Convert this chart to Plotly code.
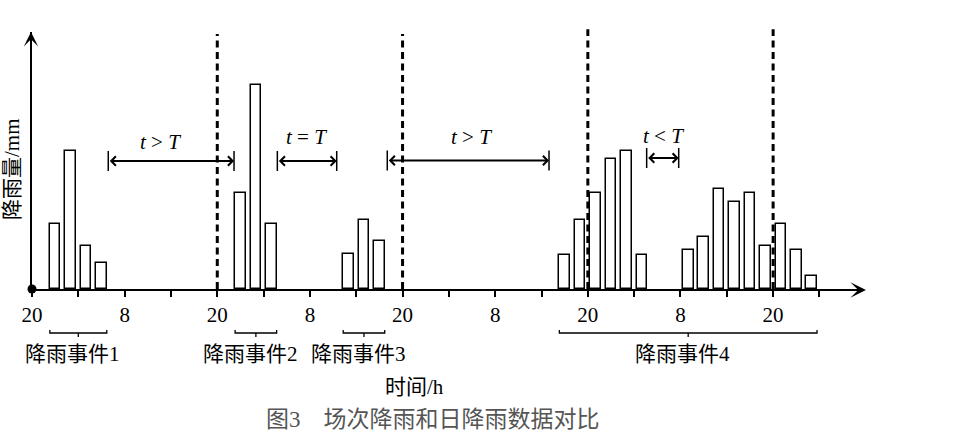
import plotly.graph_objects as go

# ---------------- data ----------------
# bar centres in hours from the first 20:00 mark, 2-hour bars
bar_hours = [3, 5, 7, 9,
             27, 29, 31,
             41, 43, 45,
             69, 71, 73, 75, 77, 79,
             85, 87, 89, 91, 93, 95, 97, 99, 101]
rain_mm = [6.5, 13.8, 4.3, 2.6,
           9.6, 20.4, 6.5,
           3.5, 6.9, 4.8,
           3.4, 6.9, 9.6, 13.0, 13.8, 3.4,
           3.9, 5.2, 10.0, 8.7, 9.6, 4.3, 6.5, 3.9, 1.3]
bar_event = [1, 1, 1, 1,
             2, 2, 2,
             3, 3, 3,
             4, 4, 4, 4, 4, 4,
             4, 4, 4, 4, 4, 4, 4, 4, 4]
event_names = {1: "降雨事件1", 2: "降雨事件2", 3: "降雨事件3", 4: "降雨事件4"}

tick_hours = list(range(0, 103, 6))
tick_text = ["20", "", "8", "", "20", "", "8", "", "20", "", "8", "", "20", "", "8", "", "20", ""]

day_splits = [24, 48, 72, 96]
day_split_tops = [25.5, 25.5, 25.97, 25.97]

# dry-interval arrows: (start h, end h, y, label, label x, label y)
intervals = [
    (9.88, 26.17, 12.8, "<i>t</i> &gt; <i>T</i>", 16.58, 14.75),
    (31.78, 39.47, 12.8, "<i>t</i> = <i>T</i>", 35.58, 15.2),
    (46.02, 66.97, 12.85, "<i>t</i> &gt; <i>T</i>", 56.96, 15.2),
    (79.62, 83.77, 13.1, "<i>t</i> &lt; <i>T</i>", 81.78, 15.35),
]

# ---------------- layout geometry ----------------
W, H = 954, 443
ML, MR, MT, MB = 32, 92, 32, 154
PLOT_W = W - ML - MR
PLOT_H = H - MT - MB
XMAX = PLOT_W / 7.72
YMAX = PLOT_H / 10.0
BAR_W = 1.38
SERIF = "Liberation Serif, 'Times New Roman', 'Noto Sans CJK SC', serif"


def py(pix):
    """pixel row -> paper y"""
    return (H - MB - pix) / PLOT_H


def px(pix):
    return (pix - ML) / PLOT_W


def text_ann(**kw):
    kw.setdefault("xanchor", "center")
    kw.setdefault("yanchor", "middle")
    kw.setdefault("showarrow", False)
    fig.add_annotation(**kw)


fig = go.Figure()

fig.add_trace(go.Bar(
    x=bar_hours, y=rain_mm, width=BAR_W,
    marker=dict(color="white", line=dict(color="black", width=1.5)),
    showlegend=False, hoverinfo="skip"))

# origin dot
fig.add_trace(go.Scatter(x=[0], y=[0], mode="markers",
                         marker=dict(color="black", size=9),
                         cliponaxis=False, showlegend=False, hoverinfo="skip"))

# day split dashed lines (y in paper fraction of the y range so tops may pass the frame)
for xs, top in zip(day_splits, day_split_tops):
    fig.add_shape(type="line", xref="x", yref="paper", x0=xs, x1=xs, y0=0, y1=top / YMAX,
                  line=dict(color="black", width=3, dash="7px,4.5px"), layer="above")

# interval arrows
for x0, x1, yy, lab, lx, ly in intervals:
    fig.add_annotation(x=x1, y=yy, ax=x0, ay=yy, xref="x", yref="y", axref="x", ayref="y",
                       text="", showarrow=True, arrowhead=4, startarrowhead=4,
                       arrowside="end+start", arrowsize=1.0, startarrowsize=1.0,
                       arrowwidth=1.8, arrowcolor="black", standoff=0, startstandoff=0)
    for xe in (x0, x1):
        fig.add_shape(type="line", xref="x", yref="y", x0=xe, x1=xe, y0=yy - 1.0, y1=yy + 1.0,
                      line=dict(color="black", width=1.5))
    text_ann(x=lx, y=ly, xref="x", yref="y", text=lab,
             font=dict(family=SERIF, size=21, color="black"))

# event brackets + labels
for ev, name in event_names.items():
    hs = [h for h, e in zip(bar_hours, bar_event) if e == ev]
    a = min(hs) - BAR_W / 2
    b = max(hs) + BAR_W / 2
    m = (a + b) / 2
    yb = py(333)
    fig.add_shape(type="path", xref="x", yref="paper",
                  path=f"M{a},{py(330)} L{a},{yb} L{b},{yb} L{b},{py(330)}",
                  line=dict(color="black", width=1.3))
    fig.add_shape(type="line", xref="x", yref="paper", x0=m, x1=m, y0=yb, y1=py(337),
                  line=dict(color="black", width=1.3))
    text_ann(x=m - 0.7, y=py(354), xref="x", yref="paper", text=name,
             font=dict(family=SERIF, size=21, color="black"))

# axis arrowheads
fig.add_annotation(x=px(31), y=py(32), xref="paper", yref="paper", ax=0, ay=20,
                   text="", showarrow=True, arrowhead=3, arrowsize=1.2, arrowwidth=2,
                   arrowcolor="black", standoff=0)
fig.add_annotation(x=px(866), y=py(290), xref="paper", yref="paper", ax=-26, ay=0,
                   text="", showarrow=True, arrowhead=3, arrowsize=1.3, arrowwidth=2,
                   arrowcolor="black", standoff=0)

# axis titles
text_ann(x=px(12), y=py(169), xref="paper", yref="paper", text="降雨量/mm",
         textangle=-90, font=dict(family=SERIF, size=21, color="black"))
text_ann(x=px(414), y=py(387), xref="paper", yref="paper", text="时间/h",
         font=dict(family=SERIF, size=21, color="black"))

# caption
text_ann(x=px(433), y=py(419), xref="paper", yref="paper",
         text="图3　场次降雨和日降雨数据对比",
         font=dict(family=SERIF, size=23, color="#555555"))

fig.update_layout(
    width=W, height=H, margin=dict(l=ML, r=MR, t=MT, b=MB),
    paper_bgcolor="white", plot_bgcolor="white", bargap=0,
    xaxis=dict(range=[0, XMAX], showgrid=False, zeroline=False,
               showline=True, linecolor="black", linewidth=2,
               ticks="outside", ticklen=6, tickwidth=2, tickcolor="black",
               tickvals=tick_hours, ticktext=tick_text,
               tickfont=dict(family=SERIF, size=21, color="black")),
    yaxis=dict(range=[0, YMAX], showgrid=False, zeroline=False,
               showline=True, linecolor="black", linewidth=2,
               showticklabels=False, ticks=""),
)

fig.write_html("out.html")
